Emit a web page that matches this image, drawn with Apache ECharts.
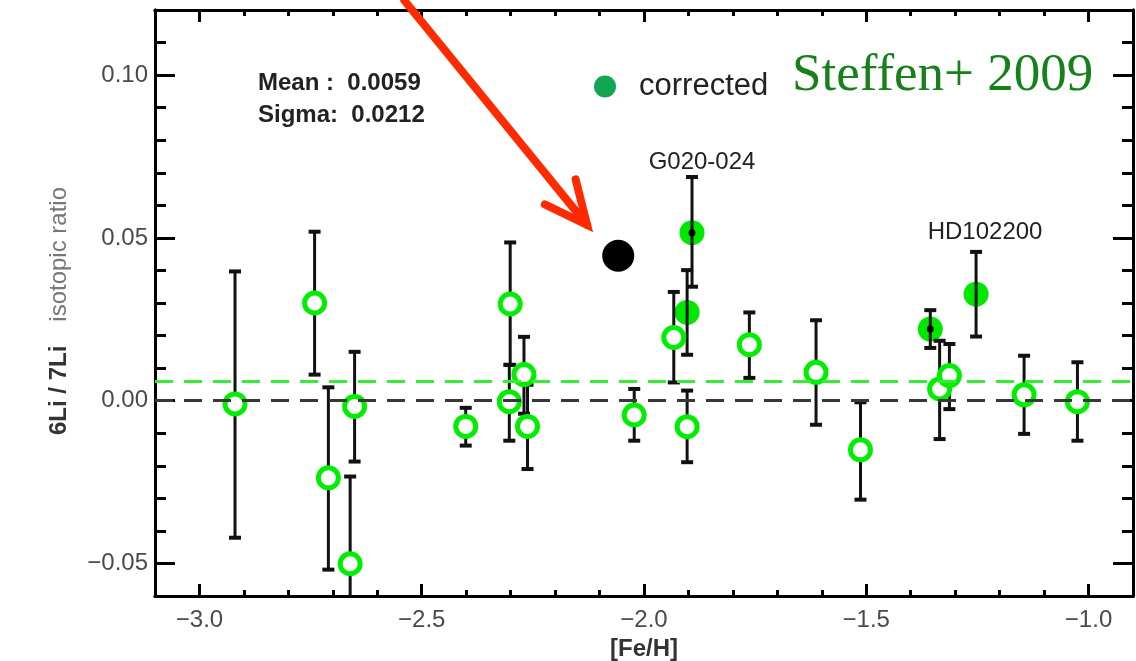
<!DOCTYPE html>
<html>
<head>
<meta charset="utf-8">
<script src="https://cdn.jsdelivr.net/npm/echarts@6/dist/echarts.min.js"></script>
<style>
html,body{margin:0;padding:0;background:#fff;}
#chart{width:1136px;height:661px;}
</style>
</head>
<body>
<div id="chart"></div>
<script>
// ---- data ----
const openFeH   = [-2.920, -2.741, -2.710, -2.651, -2.661, -2.401, -2.301, -2.303, -2.270, -2.262, -2.022, -1.933, -1.903, -1.763, -1.613, -1.513, -1.335, -1.313, -1.145, -1.025];
const openRatio = [-0.001, 0.030, -0.0237, -0.0018, -0.0501, -0.0079, 0.0297, -0.0003, 0.008, -0.0079, -0.0044, 0.0194, -0.008, 0.0172, 0.0087, -0.0151, 0.0036, 0.0077, 0.0018, -0.0003];
const openHigh  = [0.0397, 0.0519, 0.0041, 0.015, -0.0233, -0.0022, 0.0486, 0.011, 0.0196, 0.0049, 0.0036, 0.0334, 0.0031, 0.0271, 0.0247, -0.0005, 0.0184, 0.0174, 0.0138, 0.0118];
const openLow   = [-0.0421, 0.008, -0.0519, -0.0187, -0.075, -0.0138, 0.011, -0.0123, -0.004, -0.021, -0.0123, 0.0056, -0.0189, 0.007, -0.0074, -0.0304, -0.0118, -0.0026, -0.0102, -0.0123];

const corrFeH   = [-1.892, -1.903, -1.356, -1.253];
const corrRatio = [0.0516, 0.0271, 0.022, 0.0327];
const corrHigh  = [0.0687, 0.0401, 0.0278, 0.0457];
const corrLow   = [0.035, 0.0141, 0.0162, 0.0197];
const corrNames = ['G020-024', '', '', 'HD102200'];

const dotFeH    = [-1.892, -1.356];
const dotRatio  = [0.0516, 0.022];

const markFeH   = [-2.058];
const markRatio = [0.0445];

const arrowFrom = [-2.539, 0.1229];
const arrowTo   = [-2.128, 0.054];

const meanValue = 0.0059;
const sigmaValue = 0.0212;

const xMajorTicks = [-3.0, -2.5, -2.0, -1.5, -1.0];
const yMajorTicks = [-0.05, 0.00, 0.05, 0.10];

// ---- chart ----
const chart = echarts.init(document.getElementById('chart'));
const FONT = '"Liberation Sans", Arial, sans-serif';
const minus = s => s.replace('-', '\u2212');

const errData = [];
openFeH.forEach((x, i) => errData.push([x, openLow[i], openHigh[i]]));
corrFeH.forEach((x, i) => errData.push([x, corrLow[i], corrHigh[i]]));

function axisX(pos, major) {
  return {
    type: 'value', position: pos, min: -3.1, max: -0.9,
    interval: 0.1,
    axisLine: {show: true, onZero: false, lineStyle: {color: '#000', width: 3}},
    axisTick: major
      ? {show: true, inside: true, length: 12, customValues: xMajorTicks, lineStyle: {color: '#000', width: 3}}
      : {show: true, inside: true, length: 6, lineStyle: {color: '#000', width: 3}},
    axisLabel: (major && pos === 'bottom')
      ? {show: true, customValues: xMajorTicks, margin: 12, color: '#4a4a4a', fontFamily: FONT, fontSize: 24,
         formatter: v => minus(Number(v).toFixed(1))}
      : {show: false},
    splitLine: {show: false},
    name: (major && pos === 'bottom') ? '[Fe/H]' : '',
    nameLocation: 'middle', nameGap: 40,
    nameTextStyle: {fontFamily: FONT, fontSize: 24, fontWeight: 'bold', color: '#333'}
  };
}
function axisY(pos, major) {
  const o = {
    type: 'value', position: pos, min: -0.06, max: 0.12,
    interval: 0.01,
    axisLine: {show: true, onZero: false, lineStyle: {color: '#000', width: 3}},
    axisTick: major
      ? {show: true, inside: true, length: 20, customValues: yMajorTicks, lineStyle: {color: '#000', width: 3}}
      : {show: true, inside: true, length: 11, lineStyle: {color: '#000', width: 3}},
    axisLabel: (major && pos === 'left')
      ? {show: true, customValues: yMajorTicks, margin: 7, color: '#4a4a4a', fontFamily: FONT, fontSize: 24,
         formatter: v => minus(Number(v).toFixed(2))}
      : {show: false},
    splitLine: {show: false}
  };
  if (major && pos === 'left') {
    o.name = '{a|6Li / 7Li}{b|isotopic ratio}';
    o.nameLocation = 'middle';
    o.nameGap = 84;
    o.nameTextStyle = {
      rich: {
        a: {fontFamily: FONT, fontSize: 24, fontWeight: 'bold', color: '#333'},
        b: {fontFamily: FONT, fontSize: 24, color: '#777', padding: [0, 16, 0, 24]}
      }
    };
  }
  return o;
}

const option = {
  animation: false,
  backgroundColor: '#fff',
  grid: {left: 155, right: 3, top: 10, bottom: 65, containLabel: false, outerBoundsMode: 'none'},
  xAxis: [axisX('bottom', true), axisX('bottom', false), axisX('top', true), axisX('top', false)],
  yAxis: [axisY('left', true), axisY('left', false), axisY('right', true), axisY('right', false)],
  legend: {
    show: true, left: 594, top: 71, orient: 'horizontal', padding: 0,
    itemWidth: 22, itemHeight: 22, icon: 'circle',
    data: [{name: 'corrected', itemStyle: {color: '#12a650', opacity: 1}}],
    textStyle: {fontFamily: FONT, fontSize: 31, color: '#222', padding: [0, 0, 0, 18]},
    selectedMode: false
  },
  series: [
    {
      name: 'corrected', type: 'scatter', z: 2,
      symbol: 'circle', symbolSize: 25,
      itemStyle: {color: '#00e800', opacity: 1},
      data: corrFeH.map((x, i) => ({
        value: [x, corrRatio[i]],
        label: corrNames[i] ? {
          show: true, position: 'inside', formatter: corrNames[i],
          offset: i === 0 ? [10, -70] : [9, -62],
          fontFamily: FONT, fontSize: 24, color: '#222'
        } : {show: false}
      })),
      markLine: {
        silent: true, symbol: 'none', label: {show: false}, animation: false, precision: 6,
        data: [
          {yAxis: 0, lineStyle: {color: '#383838', width: 3, type: [18, 11]}},
          {yAxis: meanValue, lineStyle: {color: '#33ee33', width: 3, type: [18, 11]}}
        ]
      }
    },
    {
      name: 'errors', type: 'custom', z: 3, clip: true,
      data: errData,
      encode: {x: 0, y: [1, 2]},
      renderItem: function (params, api) {
        const x = api.value(0), lo = api.value(1), hi = api.value(2);
        const a = api.coord([x, lo]), b = api.coord([x, hi]);
        const w = 6, st = {stroke: '#111', lineWidth: 3};
        return {
          type: 'group',
          children: [
            {type: 'line', shape: {x1: a[0], y1: a[1], x2: b[0], y2: b[1]}, style: st},
            {type: 'line', shape: {x1: a[0] - w, y1: a[1], x2: a[0] + w, y2: a[1]}, style: {stroke: '#111', lineWidth: 4}},
            {type: 'line', shape: {x1: b[0] - w, y1: b[1], x2: b[0] + w, y2: b[1]}, style: {stroke: '#111', lineWidth: 4}}
          ]
        };
      }
    },
    {
      name: 'measured', type: 'scatter', z: 4,
      symbol: 'circle', symbolSize: 20,
      itemStyle: {color: '#ffffff', borderColor: '#00ee00', borderWidth: 5, opacity: 1},
      data: openFeH.map((x, i) => [x, openRatio[i]])
    },
    {
      name: 'centre', type: 'scatter', z: 5,
      symbol: 'circle', symbolSize: 7,
      itemStyle: {color: '#000', opacity: 1},
      data: dotFeH.map((x, i) => [x, dotRatio[i]])
    },
    {
      name: 'marker', type: 'scatter', z: 5,
      symbol: 'circle', symbolSize: 32,
      itemStyle: {color: '#000', opacity: 1},
      data: markFeH.map((x, i) => [x, markRatio[i]])
    }
  ]
};
chart.setOption(option);

// annotations
const p0 = chart.convertToPixel({xAxisIndex: 0, yAxisIndex: 0}, arrowFrom);
const p1 = chart.convertToPixel({xAxisIndex: 0, yAxisIndex: 0}, arrowTo);
const ang = Math.atan2(p0[1] - p1[1], p0[0] - p1[0]);
const L = 47, da = 25 * Math.PI / 180;
const w1 = [p1[0] + L * Math.cos(ang - da), p1[1] + L * Math.sin(ang - da)];
const w2 = [p1[0] + L * Math.cos(ang + da), p1[1] + L * Math.sin(ang + da)];

chart.setOption({
  graphic: [
    {type: 'line', z: 10, shape: {x1: p0[0], y1: p0[1], x2: p1[0], y2: p1[1]},
     style: {stroke: '#ff2a00', lineWidth: 8, lineCap: 'round'}},
    {type: 'polyline', z: 10, shape: {points: [w1, p1, w2]},
     style: {stroke: '#ff2a00', lineWidth: 8, lineCap: 'round', lineJoin: 'miter', fill: null}},
    {type: 'text', z: 10, left: 258, top: 71,
     style: {text: 'Mean :  ' + meanValue.toFixed(4), font: 'bold 24px "Liberation Sans", Arial, sans-serif', fill: '#222'}},
    {type: 'text', z: 10, left: 258, top: 103,
     style: {text: 'Sigma:  ' + sigmaValue.toFixed(4), font: 'bold 24px "Liberation Sans", Arial, sans-serif', fill: '#222'}},
    {type: 'text', z: 10, left: 792, top: 50,
     style: {text: 'Steffen+ 2009', font: '53px "Liberation Serif", "Times New Roman", serif', fill: '#16801a'}}
  ]
});
</script>
</body>
</html>
